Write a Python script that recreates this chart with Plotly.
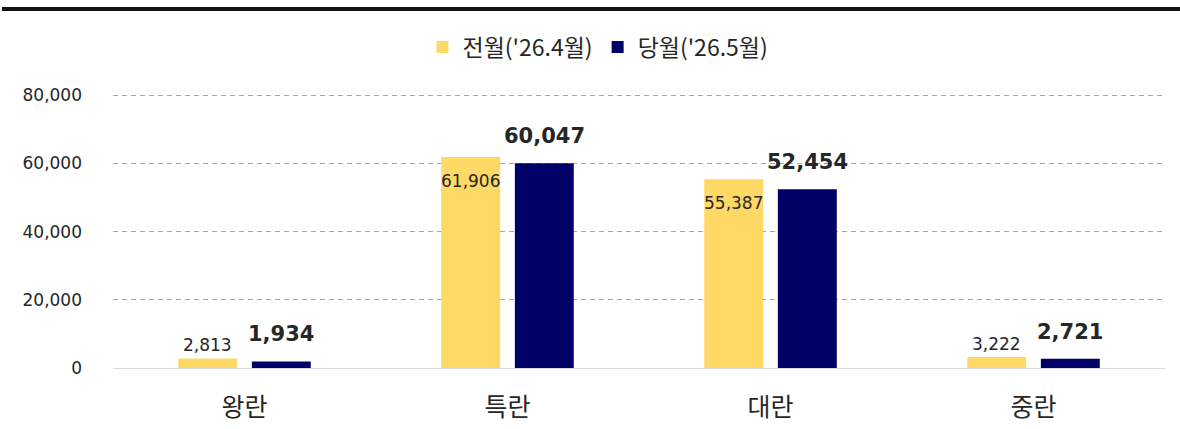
import plotly.graph_objects as go

categories = ["왕란", "특란", "대란", "중란"]
prev_name = "전월('26.4월)"
curr_name = "당월('26.5월)"
prev_values = [2813, 61906, 55387, 3222]
curr_values = [1934, 60047, 52454, 2721]
y_ticks = [0, 20000, 40000, 60000, 80000]

YELLOW = "#FFD966"
NAVY = "#000066"
TXT = "#262626"
KFONT = "Noto Sans CJK KR"
NFONT = "DejaVu Sans"

W, H = 1180, 429
L, R, T, B = 113, 15, 94, 61
plot_h = H - T - B
y_top = 80400

fig = go.Figure()
fig.add_trace(go.Bar(x=categories, y=prev_values, name=prev_name,
                     marker=dict(color=YELLOW, line=dict(width=0))))
fig.add_trace(go.Bar(x=categories, y=curr_values, name=curr_name,
                     marker=dict(color=NAVY, line=dict(width=0))))

off = 36.75
for c, v in zip(categories, prev_values):
    fig.add_annotation(x=c, y=v, xref="x", yref="y", text=f"{v:,}", showarrow=False,
                       xshift=-off, yshift=(13 if v < 10000 else -24), yanchor="middle",
                       font=dict(family=NFONT, size=17, color=TXT))
for c, v in zip(categories, curr_values):
    fig.add_annotation(x=c, y=v, xref="x", yref="y", text=f"<b>{v:,}</b>", showarrow=False,
                       xshift=off, yshift=27, yanchor="middle",
                       font=dict(family=NFONT, size=21, color=TXT))

# top border line
fig.add_shape(type="line", xref="paper", yref="paper",
              x0=(2 - L) / (W - L - R), x1=(W - L) / (W - L - R),
              y0=(H - B - 9) / plot_h, y1=(H - B - 9) / plot_h,
              line=dict(color="#111111", width=4))

fig.update_layout(
    width=W, height=H,
    margin=dict(l=L, r=R, t=T, b=B, pad=0, autoexpand=False),
    paper_bgcolor="white", plot_bgcolor="white",
    barmode="group", bargap=0.44, bargroupgap=0.2,
    font=dict(family=KFONT, color=TXT),
    showlegend=True,
    legend=dict(orientation="h", x=(598 - L) / (W - L - R), xanchor="center",
                y=(H - B - 47) / plot_h, yanchor="middle",
                font=dict(family=KFONT, size=23, color=TXT),
                itemwidth=30, tracegroupgap=0, bgcolor="rgba(0,0,0,0)"),
    xaxis=dict(showline=False, showgrid=False, ticks="",
               tickfont=dict(family=KFONT, size=25, color=TXT), ticklabelstandoff=22),
    yaxis=dict(range=[0, y_top], tickvals=y_ticks, tickformat=",",
               showgrid=True, gridcolor="#a6a6a6", griddash="5px,4px", gridwidth=1,
               zeroline=True, zerolinecolor="#d9d9d9", zerolinewidth=1,
               showline=False, ticks="",
               tickfont=dict(family=NFONT, size=17, color=TXT), ticklabelstandoff=30),
)

fig.write_html("out.html", config={"displayModeBar": False},
               post_script="document.body.style.margin='0';")
